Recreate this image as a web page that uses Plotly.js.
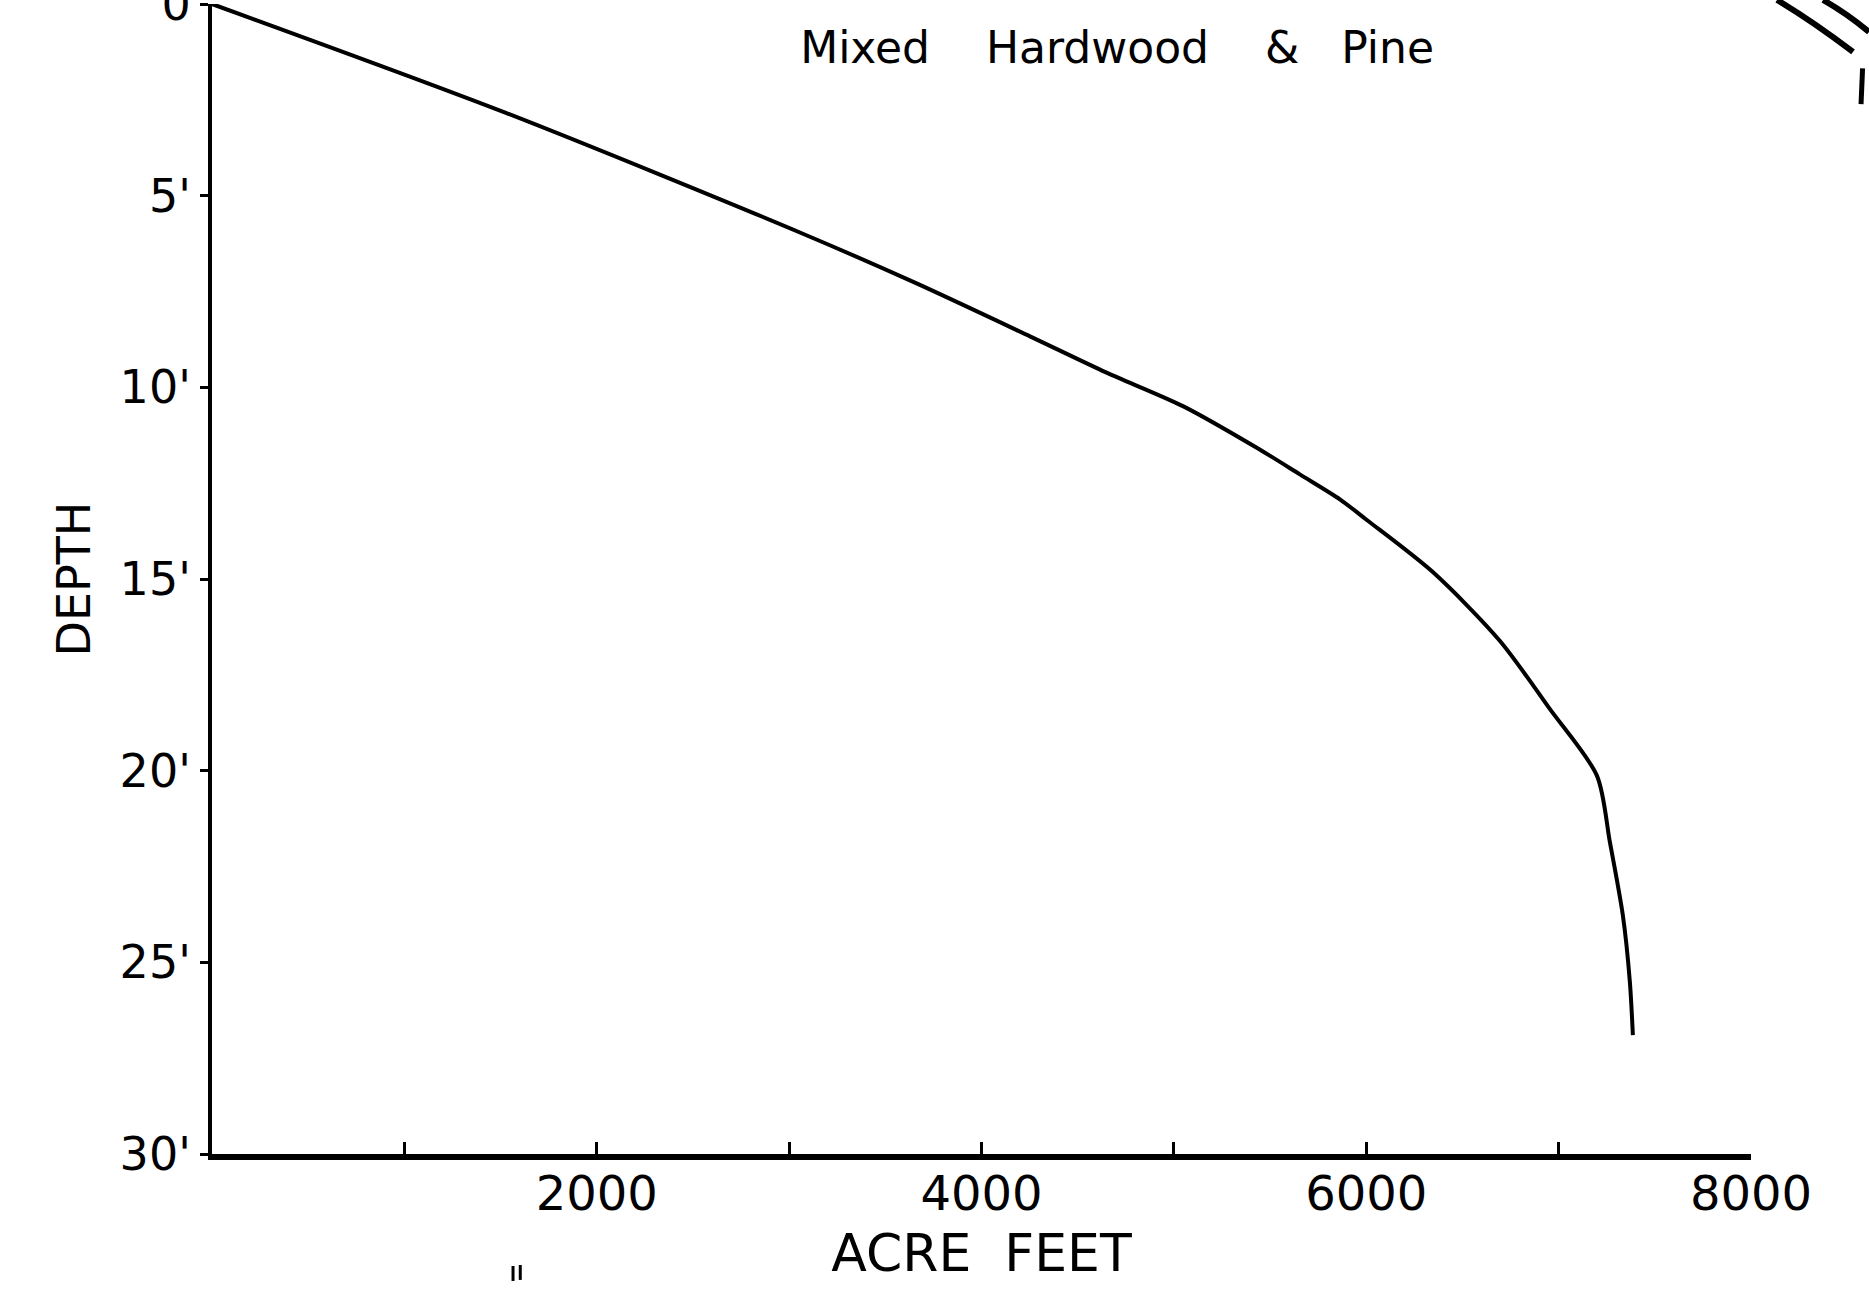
<!DOCTYPE html>
<html>
<head>
<meta charset="utf-8">
<script src="https://cdn.plot.ly/plotly-3.0.1.min.js"></script>
<style>
  html, body { margin: 0; padding: 0; background: #fff; }
  #chart { width: 1869px; height: 1295px; }
</style>
</head>
<body>
<div id="chart"></div>
<script>
// Storage curve (acre-feet vs depth in feet)
const acreFeet = [0, 1528, 3056, 3654, 4252, 4647, 5047, 5442, 5655, 5863, 6003, 6346, 6694, 6954, 7199, 7266, 7334, 7370, 7386];
const depthFt  = [0, 2.84, 5.96, 7.27, 8.67, 9.61, 10.49, 11.61, 12.27, 12.92, 13.46, 14.82, 16.61, 18.39, 20.13, 21.85, 23.78, 25.49, 26.9];

const xTickVals = [1000, 2000, 3000, 4000, 5000, 6000, 7000, 8000];
const xTickText = ["", "2000", "", "4000", "", "6000", "", "8000"];
const yTickVals = [0, 5, 10, 15, 20, 25, 30];
const yTickText = ["0", "5'", "10'", "15'", "20'", "25'", "30'"];

const NB = "\u00a0";
const chartTitle = "Mixed" + NB.repeat(4) + "Hardwood" + NB.repeat(4) + "&" + NB.repeat(3) + "Pine";
const xTitle = "ACRE" + NB + NB + "FEET";
const yTitle = "DEPTH";

const FONT = "DejaVu Sans, Verdana, sans-serif";

const trace = {
  x: acreFeet,
  y: depthFt,
  type: "scatter",
  mode: "lines",
  line: { color: "#000", width: 4, shape: "spline", smoothing: 0.8 },
  hoverinfo: "x+y",
  showlegend: false
};

// decorative pen strokes from the scanned sheet (not data)
const strokeStyle = { color: "#000", width: 6 };
const decorations = [
  { type: "path", xref: "paper", yref: "paper", path: "M 1.0169 1.0035 Q 1.040 0.985 1.0663 0.9583", line: strokeStyle },
  { type: "path", xref: "paper", yref: "paper", path: "M 1.0468 1.0035 Q 1.062 0.992 1.0767 0.9757", line: strokeStyle },
  { type: "path", xref: "paper", yref: "paper", path: "M 1.0725 0.9440 L 1.0715 0.9130", line: { color: "#000", width: 5 } },
  { type: "path", xref: "paper", yref: "paper", path: "M 0.1956 -0.0974 L 0.1956 -0.1104", line: { color: "#000", width: 3 } },
  { type: "path", xref: "paper", yref: "paper", path: "M 0.2003 -0.0965 L 0.2003 -0.1095", line: { color: "#000", width: 3 } }
];

const layout = {
  width: 1869,
  height: 1295,
  margin: { l: 212, r: 118, t: 4, b: 141, pad: 0 },
  paper_bgcolor: "#fff",
  plot_bgcolor: "#fff",
  font: { family: FONT, color: "#000" },
  title: {
    text: chartTitle,
    font: { family: FONT, size: 44, color: "#000" },
    x: 0.5977, xanchor: "center", xref: "container",
    y: 0.963, yanchor: "middle", yref: "container"
  },
  xaxis: {
    range: [0, 8000],
    autorange: false,
    showgrid: false,
    zeroline: false,
    showline: true,
    linecolor: "#000",
    linewidth: 6,
    ticks: "inside",
    ticklen: 12,
    tickwidth: 3,
    tickcolor: "#000",
    tickmode: "array",
    tickvals: xTickVals,
    ticktext: xTickText,
    ticklabelstandoff: -8,
    ticklabeloverflow: "allow",
    tickfont: { family: FONT, size: 48, color: "#000" },
    title: { text: xTitle, font: { family: FONT, size: 52, color: "#000" }, standoff: 17 },
    automargin: false
  },
  yaxis: {
    range: [30, 0],
    autorange: false,
    showgrid: false,
    zeroline: false,
    showline: true,
    linecolor: "#000",
    linewidth: 4,
    ticks: "outside",
    ticklen: 8,
    tickwidth: 3,
    tickcolor: "#000",
    tickmode: "array",
    tickvals: yTickVals,
    ticktext: yTickText,
    ticklabelstandoff: 0,
    ticklabeloverflow: "allow",
    tickfont: { family: FONT, size: 46, color: "#000" },
    title: { text: yTitle, font: { family: FONT, size: 46, color: "#000" }, standoff: 16 },
    automargin: false
  },
  shapes: decorations
};

Plotly.newPlot("chart", [trace], layout, { displayModeBar: false });
</script>
</body>
</html>
